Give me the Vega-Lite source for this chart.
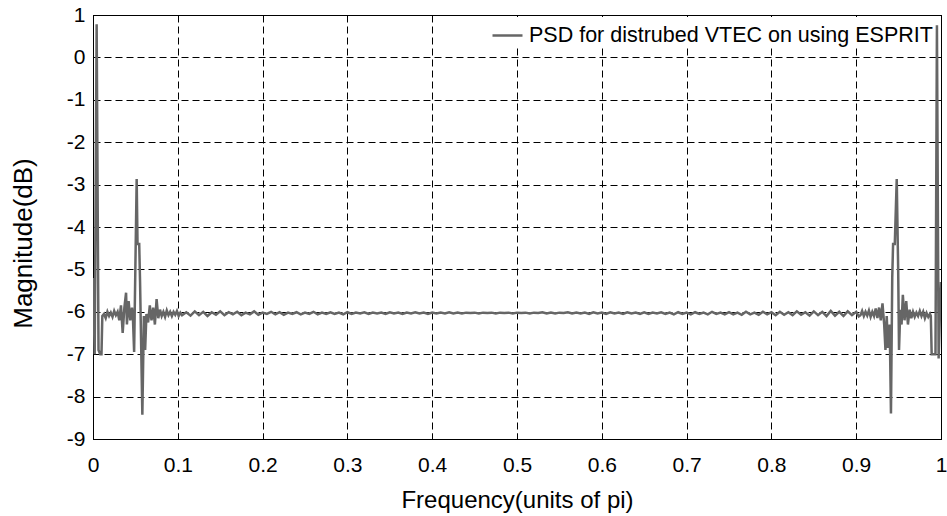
{
  "$schema": "https://vega.github.io/schema/vega-lite/v6.json",
  "width": 848,
  "height": 424,
  "autosize": {"type": "none"},
  "padding": {"left": 93, "top": 15, "right": 6, "bottom": 77},
  "background": "#ffffff",
  "config": {
    "view": {"stroke": "#000000", "strokeWidth": 1},
    "font": "Liberation Sans",
    "axis": {"labelFont": "Liberation Sans", "titleFont": "Liberation Sans", "labelColor": "#000000", "titleColor": "#000000", "domainColor": "#000000", "tickColor": "#000000", "titleFontWeight": "normal"}
  },
  "data": {
    "values": [
      {"f": 0.000, "m": -5.2}, {"f": 0.002, "m": -7.0}, {"f": 0.0043, "m": 0.78}, {"f": 0.0065, "m": -6.9},
      {"f": 0.0085, "m": -7.0}, {"f": 0.0100, "m": -7.0}, {"f": 0.0110, "m": -6.1}, {"f": 0.013, "m": -6.05},
      {"f": 0.015, "m": -6.15}, {"f": 0.017, "m": -6.0}, {"f": 0.019, "m": -6.1}, {"f": 0.021, "m": -6.02},
      {"f": 0.023, "m": -6.12}, {"f": 0.025, "m": -5.98}, {"f": 0.027, "m": -6.08}, {"f": 0.029, "m": -6.0},
      {"f": 0.031, "m": -6.2}, {"f": 0.033, "m": -5.85}, {"f": 0.035, "m": -6.5}, {"f": 0.037, "m": -5.9},
      {"f": 0.039, "m": -5.55}, {"f": 0.040, "m": -6.3}, {"f": 0.042, "m": -5.75}, {"f": 0.044, "m": -6.2},
      {"f": 0.046, "m": -5.9}, {"f": 0.047, "m": -6.1}, {"f": 0.0485, "m": -6.95}, {"f": 0.050, "m": -4.9},
      {"f": 0.0515, "m": -2.87}, {"f": 0.0525, "m": -4.4}, {"f": 0.0545, "m": -4.4}, {"f": 0.0555, "m": -5.3},
      {"f": 0.0582, "m": -8.43}, {"f": 0.0600, "m": -6.1}, {"f": 0.0615, "m": -6.9}, {"f": 0.063, "m": -6.05},
      {"f": 0.065, "m": -6.25}, {"f": 0.067, "m": -5.85}, {"f": 0.069, "m": -6.2}, {"f": 0.071, "m": -5.9},
      {"f": 0.073, "m": -6.3}, {"f": 0.075, "m": -5.7}, {"f": 0.077, "m": -6.15}, {"f": 0.079, "m": -5.95},
      {"f": 0.081, "m": -6.1}, {"f": 0.083, "m": -6.0}, {"f": 0.085, "m": -6.12}, {"f": 0.087, "m": -5.97},
      {"f": 0.089, "m": -6.08}, {"f": 0.091, "m": -6.0}, {"f": 0.093, "m": -6.1}, {"f": 0.095, "m": -6.0},
      {"f": 0.097, "m": -6.07}, {"f": 0.099, "m": -5.98}, {"f": 0.101, "m": -6.1}, {"f": 0.103, "m": -6.02},
      {"f": 0.105, "m": -6.08},
      {"f": 0.110, "m": -6.01}, {"f": 0.115, "m": -6.09}, {"f": 0.120, "m": -5.99}, {"f": 0.125, "m": -6.08},
      {"f": 0.130, "m": -6.0}, {"f": 0.135, "m": -6.1}, {"f": 0.140, "m": -6.01}, {"f": 0.145, "m": -6.07},
      {"f": 0.150, "m": -5.99}, {"f": 0.155, "m": -6.08}, {"f": 0.160, "m": -6.01}, {"f": 0.165, "m": -6.06},
      {"f": 0.170, "m": -6.0}, {"f": 0.175, "m": -6.08}, {"f": 0.180, "m": -6.02}, {"f": 0.185, "m": -6.06},
      {"f": 0.190, "m": -5.99}, {"f": 0.195, "m": -6.07}, {"f": 0.200, "m": -6.02}, {"f": 0.205, "m": -6.05},
      {"f": 0.210, "m": -6.0}, {"f": 0.215, "m": -6.06}, {"f": 0.220, "m": -6.01}, {"f": 0.225, "m": -6.07},
      {"f": 0.230, "m": -6.02}, {"f": 0.235, "m": -6.05}, {"f": 0.240, "m": -6.01}, {"f": 0.245, "m": -6.06},
      {"f": 0.250, "m": -6.02}, {"f": 0.255, "m": -6.05}, {"f": 0.260, "m": -6.0}, {"f": 0.265, "m": -6.06},
      {"f": 0.270, "m": -6.02}, {"f": 0.275, "m": -6.05}, {"f": 0.280, "m": -6.01}, {"f": 0.285, "m": -6.05},
      {"f": 0.290, "m": -6.02}, {"f": 0.295, "m": -6.06}, {"f": 0.300, "m": -6.01}, {"f": 0.305, "m": -6.05},
      {"f": 0.310, "m": -6.02}, {"f": 0.315, "m": -6.04}, {"f": 0.320, "m": -6.01}, {"f": 0.325, "m": -6.05},
      {"f": 0.330, "m": -6.02}, {"f": 0.335, "m": -6.04}, {"f": 0.340, "m": -6.02}, {"f": 0.345, "m": -6.05},
      {"f": 0.350, "m": -6.01}, {"f": 0.355, "m": -6.04}, {"f": 0.360, "m": -6.02}, {"f": 0.365, "m": -6.05},
      {"f": 0.370, "m": -6.02}, {"f": 0.375, "m": -6.04}, {"f": 0.380, "m": -6.01}, {"f": 0.385, "m": -6.04},
      {"f": 0.390, "m": -6.02}, {"f": 0.395, "m": -6.05}, {"f": 0.400, "m": -6.02}, {"f": 0.405, "m": -6.04},
      {"f": 0.410, "m": -6.02}, {"f": 0.415, "m": -6.04}, {"f": 0.420, "m": -6.01}, {"f": 0.425, "m": -6.04},
      {"f": 0.430, "m": -6.02}, {"f": 0.435, "m": -6.04}, {"f": 0.440, "m": -6.02}, {"f": 0.445, "m": -6.03},
      {"f": 0.450, "m": -6.02}, {"f": 0.455, "m": -6.04}, {"f": 0.460, "m": -6.02}, {"f": 0.465, "m": -6.03},
      {"f": 0.470, "m": -6.02}, {"f": 0.475, "m": -6.04}, {"f": 0.480, "m": -6.02}, {"f": 0.485, "m": -6.03},
      {"f": 0.490, "m": -6.02}, {"f": 0.495, "m": -6.04}, {"f": 0.500, "m": -6.02}, {"f": 0.505, "m": -6.03},
      {"f": 0.510, "m": -6.02}, {"f": 0.515, "m": -6.04}, {"f": 0.520, "m": -6.02}, {"f": 0.525, "m": -6.03},
      {"f": 0.530, "m": -6.01}, {"f": 0.535, "m": -6.04}, {"f": 0.540, "m": -6.02}, {"f": 0.545, "m": -6.04},
      {"f": 0.550, "m": -6.02}, {"f": 0.555, "m": -6.03}, {"f": 0.560, "m": -6.01}, {"f": 0.565, "m": -6.04},
      {"f": 0.570, "m": -6.02}, {"f": 0.575, "m": -6.04}, {"f": 0.580, "m": -6.02}, {"f": 0.585, "m": -6.05},
      {"f": 0.590, "m": -6.01}, {"f": 0.595, "m": -6.04}, {"f": 0.600, "m": -6.02}, {"f": 0.605, "m": -6.05},
      {"f": 0.610, "m": -6.01}, {"f": 0.615, "m": -6.04}, {"f": 0.620, "m": -6.02}, {"f": 0.625, "m": -6.05},
      {"f": 0.630, "m": -6.01}, {"f": 0.635, "m": -6.04}, {"f": 0.640, "m": -6.02}, {"f": 0.645, "m": -6.05},
      {"f": 0.650, "m": -6.01}, {"f": 0.655, "m": -6.05}, {"f": 0.660, "m": -6.02}, {"f": 0.665, "m": -6.04},
      {"f": 0.670, "m": -6.01}, {"f": 0.675, "m": -6.05}, {"f": 0.680, "m": -6.02}, {"f": 0.685, "m": -6.06},
      {"f": 0.690, "m": -6.01}, {"f": 0.695, "m": -6.05}, {"f": 0.700, "m": -6.02}, {"f": 0.705, "m": -6.06},
      {"f": 0.710, "m": -6.01}, {"f": 0.715, "m": -6.05}, {"f": 0.720, "m": -6.02}, {"f": 0.725, "m": -6.06},
      {"f": 0.730, "m": -6.0}, {"f": 0.735, "m": -6.05}, {"f": 0.740, "m": -6.02}, {"f": 0.745, "m": -6.06},
      {"f": 0.750, "m": -6.01}, {"f": 0.755, "m": -6.06}, {"f": 0.760, "m": -6.02}, {"f": 0.765, "m": -6.07},
      {"f": 0.770, "m": -6.0}, {"f": 0.775, "m": -6.06}, {"f": 0.780, "m": -6.02}, {"f": 0.785, "m": -6.07},
      {"f": 0.790, "m": -6.0}, {"f": 0.795, "m": -6.06}, {"f": 0.800, "m": -6.01}, {"f": 0.805, "m": -6.08},
      {"f": 0.810, "m": -6.0}, {"f": 0.815, "m": -6.07}, {"f": 0.820, "m": -6.01}, {"f": 0.825, "m": -6.08},
      {"f": 0.830, "m": -5.99}, {"f": 0.835, "m": -6.07}, {"f": 0.840, "m": -6.01}, {"f": 0.845, "m": -6.09},
      {"f": 0.850, "m": -5.99}, {"f": 0.855, "m": -6.08}, {"f": 0.860, "m": -6.0}, {"f": 0.865, "m": -6.1},
      {"f": 0.870, "m": -5.98}, {"f": 0.875, "m": -6.09}, {"f": 0.880, "m": -6.0}, {"f": 0.885, "m": -6.1},
      {"f": 0.890, "m": -5.99}, {"f": 0.895, "m": -6.08}, {"f": 0.900, "m": -6.0}, {"f": 0.903, "m": -6.11},
      {"f": 0.905, "m": -6.08}, {"f": 0.907, "m": -5.98}, {"f": 0.909, "m": -6.1}, {"f": 0.911, "m": -6.0},
      {"f": 0.913, "m": -6.09}, {"f": 0.915, "m": -5.97}, {"f": 0.917, "m": -6.12}, {"f": 0.919, "m": -6.0},
      {"f": 0.921, "m": -6.1}, {"f": 0.923, "m": -5.92}, {"f": 0.925, "m": -6.15}, {"f": 0.927, "m": -5.9},
      {"f": 0.929, "m": -6.2}, {"f": 0.931, "m": -5.8}, {"f": 0.933, "m": -6.3}, {"f": 0.9345, "m": -6.9},
      {"f": 0.936, "m": -6.1}, {"f": 0.9375, "m": -6.85}, {"f": 0.9395, "m": -6.3}, {"f": 0.941, "m": -8.4},
      {"f": 0.9425, "m": -5.2}, {"f": 0.9435, "m": -4.4}, {"f": 0.9455, "m": -4.4}, {"f": 0.9478, "m": -2.87},
      {"f": 0.9495, "m": -5.0}, {"f": 0.9505, "m": -6.9}, {"f": 0.952, "m": -5.95}, {"f": 0.9535, "m": -6.3},
      {"f": 0.955, "m": -5.6}, {"f": 0.957, "m": -6.2}, {"f": 0.959, "m": -5.75}, {"f": 0.961, "m": -6.3},
      {"f": 0.963, "m": -5.95}, {"f": 0.965, "m": -6.15}, {"f": 0.967, "m": -6.0}, {"f": 0.969, "m": -6.12},
      {"f": 0.971, "m": -6.02}, {"f": 0.973, "m": -6.1}, {"f": 0.975, "m": -5.98}, {"f": 0.977, "m": -6.1},
      {"f": 0.979, "m": -6.0}, {"f": 0.981, "m": -6.15}, {"f": 0.983, "m": -6.03}, {"f": 0.985, "m": -6.12},
      {"f": 0.987, "m": -6.05}, {"f": 0.988, "m": -6.1}, {"f": 0.989, "m": -7.0}, {"f": 0.9935, "m": -7.0},
      {"f": 0.9952, "m": 0.76}, {"f": 0.9972, "m": -7.1}, {"f": 0.9985, "m": -6.2}, {"f": 1.0, "m": -5.3}
    ]
  },
  "layer": [
    {
      "mark": {"type": "line", "strokeWidth": 2.5, "clip": true},
      "encoding": {
        "x": {
          "field": "f", "type": "quantitative",
          "scale": {"domain": [0, 1], "nice": false, "zero": false},
          "axis": {
            "orient": "bottom", "values": [0, 0.1, 0.2, 0.3, 0.4, 0.5, 0.6, 0.7, 0.8, 0.9, 1], "format": "~g",
            "title": "Frequency(units of pi)", "grid": true, "gridDash": [7, 4], "gridColor": "#000000", "gridOpacity": 1, "gridWidth": 1,
            "tickSize": -6, "tickWidth": 1, "labelPadding": 21, "labelFontSize": 21, "labelFlush": false, "labelOverlap": false,
            "titleFontSize": 24, "titleY": 68, "titleBaseline": "alphabetic"
          }
        },
        "y": {
          "field": "m", "type": "quantitative",
          "scale": {"domain": [-9, 1], "nice": false, "zero": false},
          "axis": {
            "orient": "left", "values": [-9, -8, -7, -6, -5, -4, -3, -2, -1, 0, 1], "labelExpr": "'' + datum.value",
            "title": "Magnitude(dB)", "grid": true, "gridDash": [7, 4], "gridColor": "#000000", "gridOpacity": 1, "gridWidth": 1,
            "tickSize": -6, "tickWidth": 1, "labelPadding": 14, "labelFontSize": 21, "labelFlush": false, "labelOverlap": false,
            "titleFontSize": 26, "titleX": -62, "titleY": 228, "titleBaseline": "alphabetic"
          }
        },
        "color": {
          "datum": "PSD for distrubed VTEC on using ESPRIT",
          "scale": {"range": ["#666666"]},
          "legend": {
            "orient": "none", "legendX": 396, "legendY": 2, "title": null,
            "symbolType": "stroke", "symbolSize": 900, "symbolStrokeWidth": 2.5,
            "labelFont": "Liberation Sans", "labelFontSize": 21.5, "labelColor": "#000000", "labelOffset": 5, "labelLimit": 600,
            "fillColor": "#ffffff", "padding": 2
          }
        }
      }
    },
    {
      "mark": {"type": "line", "opacity": 0},
      "encoding": {
        "x": {
          "field": "f", "type": "quantitative",
          "axis": {"orient": "top", "values": [0, 0.1, 0.2, 0.3, 0.4, 0.5, 0.6, 0.7, 0.8, 0.9, 1], "labels": false, "grid": false, "title": null, "tickSize": -6, "tickWidth": 1}
        },
        "y": {
          "field": "m", "type": "quantitative",
          "axis": {"orient": "right", "values": [-9, -8, -7, -6, -5, -4, -3, -2, -1, 0, 1], "labels": false, "grid": false, "title": null, "tickSize": -6, "tickWidth": 1}
        }
      }
    }
  ],
  "resolve": {"axis": {"x": "independent", "y": "independent"}}
}
